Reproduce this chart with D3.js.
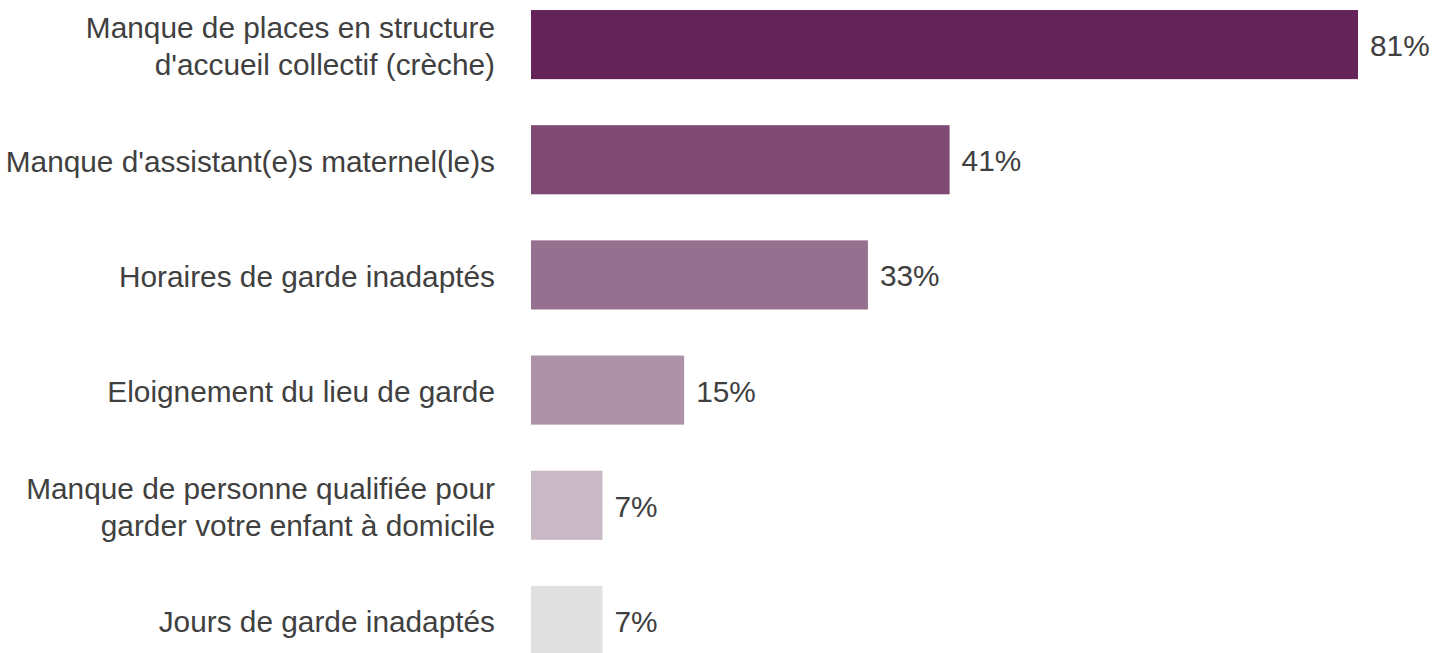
<!DOCTYPE html>
<html>
<head>
<meta charset="utf-8">
<script src="https://cdn.jsdelivr.net/npm/d3@7/dist/d3.min.js"></script>
<style>
  html, body { margin: 0; padding: 0; background: #ffffff; }
  svg { display: block; }
  text { font-family: "Liberation Sans", Arial, sans-serif; }
</style>
</head>
<body>
<svg id="chart" width="1433" height="653"></svg>
<script>
// Raisons citées pour les difficultés de garde
const categories = [
  ["Manque de places en structure", "d'accueil collectif (crèche)"],
  ["Manque d'assistant(e)s maternel(le)s"],
  ["Horaires de garde inadaptés"],
  ["Eloignement du lieu de garde"],
  ["Manque de personne qualifiée pour", "garder votre enfant à domicile"],
  ["Jours de garde inadaptés"]
];
const values = [81, 41, 33, 15, 7, 7];
const valueLabels = ["81%", "41%", "33%", "15%", "7%", "7%"];
const barColors = ["#642459", "#7e4a74", "#96708f", "#ae92a8", "#c8b9c4", "#e0e0e0"];

const svg = d3.select("#chart");
const ids = d3.range(categories.length);

const x = d3.scaleLinear().domain([0, 81]).range([531, 1358]);
const y = d3.scaleBand().domain(ids).range([-13, 678]).paddingInner(0.4).paddingOuter(0.2);

const fontSize = 29.8;
const lineH = 37;
const baseShift = 12; // décalage de la ligne de base sous le centre de la barre

// Barres
svg.append("g").selectAll("rect")
  .data(ids)
  .join("rect")
  .attr("x", x(0))
  .attr("y", i => y(i))
  .attr("width", i => x(values[i]) - x(0))
  .attr("height", y.bandwidth())
  .attr("fill", i => barColors[i]);

// Libellés des catégories
const labels = svg.append("g").selectAll("text")
  .data(ids)
  .join("text")
  .attr("text-anchor", "end")
  .attr("fill", "#404040")
  .style("font-size", fontSize + "px")
  .attr("x", 495)
  .attr("y", i => y(i) + y.bandwidth() / 2);

labels.selectAll("tspan")
  .data(i => categories[i].map((line, k, arr) => ({ line, k, n: arr.length })))
  .join("tspan")
  .attr("x", 495)
  .attr("dy", d => d.k === 0 ? ((-(d.n - 1) / 2) * lineH + baseShift) + "px" : lineH + "px")
  .text(d => d.line);

// Valeurs
svg.append("g").selectAll("text")
  .data(ids)
  .join("text")
  .attr("x", i => x(values[i]) + 12)
  .attr("y", i => y(i) + y.bandwidth() / 2 + 11.5)
  .attr("fill", "#404040")
  .style("font-size", fontSize + "px")
  .text(i => valueLabels[i]);
</script>
</body>
</html>
